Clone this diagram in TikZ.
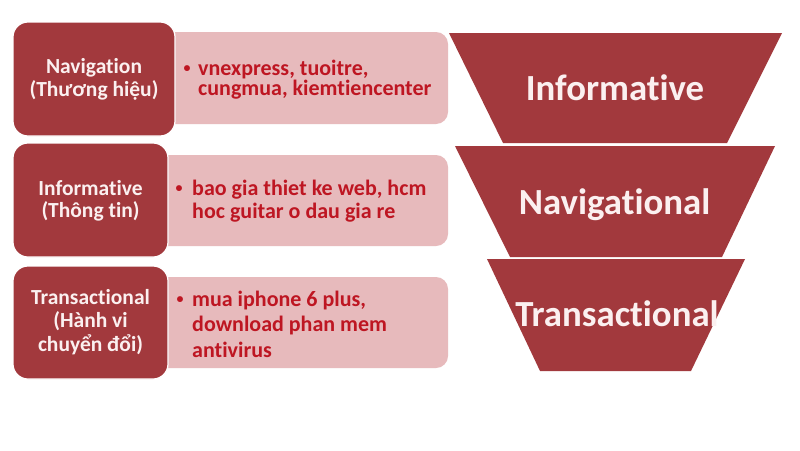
\documentclass[tikz,border=0pt]{standalone}
\usepackage{fontspec}
\setmainfont{Carlito}[RawFeature={-liga;-clig;-dlig}]
\definecolor{darkred}{HTML}{A2393D}
\definecolor{lightpink}{HTML}{E7BABC}
\definecolor{bodyred}{HTML}{BE1622}
\definecolor{paletext}{HTML}{FBF0F0}
\newcommand\ctrlines[2]{\vtop{\baselineskip=#1\relax\lineskiplimit=-100pt\lineskip=0pt\halign{\hfil##\hfil\cr#2\crcr}}}
\newcommand\leftlines[2]{\vtop{\baselineskip=#1\relax\lineskiplimit=-100pt\lineskip=0pt\halign{##\hfil\cr#2\crcr}}}
\tikzset{
  darkbox/.style={fill=darkred, draw=white, line width=1.2pt, rounded corners=15pt},
  lightbox/.style={fill=lightpink, draw=none, rounded corners=12pt},
  funnelpart/.style={fill=darkred, draw=none},
  headtext/.style={inner sep=0pt, anchor=base, text=paletext, font=\fontsize{21.5}{23}\selectfont\bfseries},
  bodytext/.style={inner sep=0pt, anchor=base west, text=bodyred, font=\fontsize{22}{22}\selectfont\bfseries},
  bullettext/.style={inner sep=0pt, anchor=base, text=bodyred, font=\fontsize{14}{14}\selectfont\bfseries},
  funneltext/.style={inner sep=0pt, anchor=base, text=paletext, font=\fontsize{36.8}{40}\selectfont\bfseries}
}
\begin{document}
\begin{tikzpicture}[x=1pt, y=-1pt]
\useasboundingbox[fill=white] (0,0) rectangle (800,450);

% light boxes (behind)
\path[lightbox] (150,32) rectangle (448,124);
\path[lightbox] (150,155) rectangle (448,246);
\path[lightbox] (150,277) rectangle (448,368);

% dark boxes
\path[darkbox] (13,22) rectangle (175,136);
\path[darkbox] (13,143) rectangle (168,257);
\path[darkbox] (13,266) rectangle (168,379);

% dark box texts
\node[headtext] (h1) at (94,73.3) {\ctrlines{22.7pt}{Navigation\cr (Thương hiệu)}};
\node[headtext] (h2) at (90.5,195) {\ctrlines{22.5pt}{Informative\cr (Thông tin)}};
\node[headtext] (h3) at (90.5,304) {\ctrlines{23.8pt}{Transactional\cr (Hành vi\cr chuyển đổi)}};

% light box texts
\node[bullettext] (b1) at (187,72.5) {•};
\node[bodytext] (t1) at (198,75) {\leftlines{20.7pt}{vnexpress, tuoitre,\cr cungmua, kiemtiencenter}};
\node[bullettext] (b2) at (179,192.5) {•};
\node[bodytext] (t2) at (192,195) {\leftlines{23.3pt}{bao gia thiet ke web, hcm\cr hoc guitar o dau gia re}};
\node[bullettext] (b3) at (180,303.5) {•};
\node[bodytext] (t3) at (192,306) {\leftlines{25.5pt}{mua iphone 6 plus,\cr download phan mem\cr antivirus}};

% funnel
\path[funnelpart] (449,33) -- (782,33) -- (727,143) -- (503,143) -- cycle;
\path[funnelpart] (455,146) -- (775,146) -- (722,257) -- (510,257) -- cycle;
\path[funnelpart] (487,259) -- (745,259) -- (691,371) -- (540,371) -- cycle;

\node[funneltext] (f1) at (615,100) {Informative};
\node[funneltext] (f2) at (614.5,214) {Navigational};
\node[funneltext] (f3) at (617,326) {Transactional};
\end{tikzpicture}
\end{document}
